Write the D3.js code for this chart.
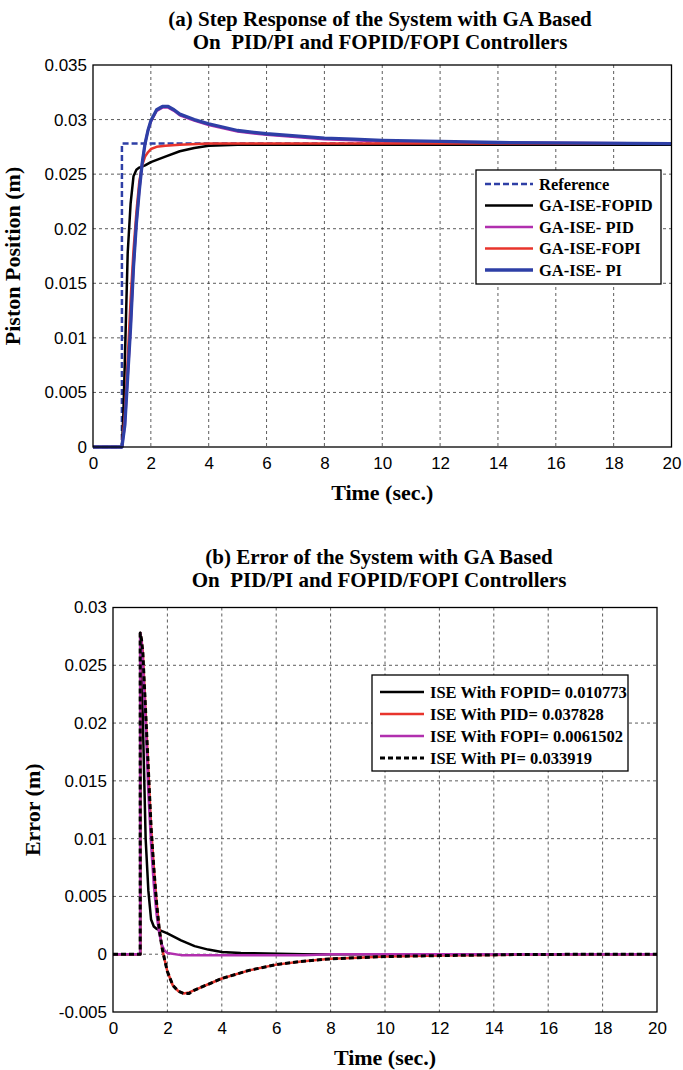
<!DOCTYPE html>
<html>
<head>
<meta charset="utf-8">
<script src="https://cdn.jsdelivr.net/npm/d3@7"></script>
<style>
body{margin:0;background:#fff}
text{white-space:pre}
</style>
</head>
<body>
<svg id="fig" width="683" height="1070"></svg>
<script>
// ---- data ----
var timeTicks = [0,2,4,6,8,10,12,14,16,18,20];
var posTicks = [0,0.005,0.01,0.015,0.02,0.025,0.03,0.035];
var posTickLabels = ["0","0.005","0.01","0.015","0.02","0.025","0.03","0.035"];
var errTicks = [-0.005,0,0.005,0.01,0.015,0.02,0.025,0.03];
var errTickLabels = ["-0.005","0","0.005","0.01","0.015","0.02","0.025","0.03"];

// (a) step response
var refT   = [0,1,1,20];
var refY   = [0,0,0.0278,0.0278];
var fopidT = [0,1,1.05,1.1,1.15,1.2,1.3,1.4,1.5,1.6,1.8,2,2.5,3,3.5,4,5,20];
var fopidY = [0,0,0.003,0.0078,0.0128,0.0178,0.0223,0.0248,0.0254,0.0256,0.0258,0.0261,0.0266,0.0271,0.0274,0.0276,0.0277,0.0277];
var fopiT  = [0,1,1.1,1.2,1.3,1.4,1.5,1.6,1.7,1.8,1.9,2,2.2,2.5,3,4,5,20];
var fopiY  = [0,0,0.003,0.008,0.0135,0.018,0.0215,0.0243,0.0258,0.0266,0.027,0.0273,0.0275,0.0276,0.0277,0.0278,0.0278,0.0278];
var piT    = [0,1,1.1,1.2,1.3,1.4,1.5,1.6,1.7,1.8,1.9,2,2.2,2.4,2.6,2.8,3,3.5,4,5,6,7,8,9,10,12,14,20];
var piY    = [0,0,0.002,0.0065,0.011,0.0165,0.0205,0.0235,0.026,0.0278,0.029,0.0299,0.0309,0.0312,0.0312,0.0309,0.0305,0.03,0.0296,0.029,0.0287,0.0285,0.0283,0.0282,0.0281,0.028,0.0279,0.0278];
var pidT   = [0,1,1.1,1.2,1.3,1.4,1.5,1.6,1.7,1.8,1.9,2,2.2,2.4,2.6,2.8,3,3.5,4,5,6,7,8,9,10,12,14,20];
var pidY   = [0,0,0.002,0.0065,0.011,0.0165,0.0205,0.0235,0.026,0.0278,0.029,0.0298,0.0308,0.0311,0.0311,0.0308,0.0304,0.0299,0.0295,0.0289,0.0286,0.0284,0.0282,0.0281,0.028,0.0279,0.0279,0.0278];

// (b) error
var eFopidT = [0,1,1,1.05,1.1,1.15,1.2,1.3,1.4,1.5,1.6,1.8,2,2.5,3,3.5,4,4.7,7,20];
var eFopidY = [0,0,0.0278,0.025,0.02,0.015,0.01,0.0055,0.003,0.0024,0.0022,0.002,0.0018,0.0012,0.0007,0.0004,0.0002,0.0001,0,0];
var ePidT   = [0,1,1,1.05,1.1,1.2,1.3,1.4,1.5,1.6,1.7,1.8,1.9,2,2.2,2.4,2.6,2.8,3,3.5,4,5,6,7,8,9,10,12,14,15,20];
var ePidY   = [0,0,0.0278,0.0272,0.026,0.021,0.016,0.011,0.0075,0.0045,0.0022,0.0006,-0.0005,-0.0015,-0.0027,-0.0032,-0.0034,-0.0033,-0.0031,-0.0026,-0.0021,-0.0014,-0.0009,-0.0006,-0.0004,-0.0003,-0.0002,-0.00012,-0.00006,-0.00002,0];
var eFopiT  = [0,1,1,1.05,1.1,1.2,1.3,1.4,1.5,1.6,1.7,1.8,1.9,2,2.5,7,8,20];
var eFopiY  = [0,0,0.0278,0.027,0.025,0.02,0.014,0.0095,0.006,0.0035,0.0018,0.0008,0.0003,0.0001,-0.00008,-0.00008,0,0];
var ePiT    = ePidT;
var ePiY    = [0,0,0.0278,0.0272,0.026,0.021,0.016,0.011,0.0075,0.0045,0.0022,0.0006,-0.0005,-0.0015,-0.0027,-0.0032,-0.0034,-0.0034,-0.0031,-0.0026,-0.0021,-0.0014,-0.0009,-0.0006,-0.0004,-0.0003,-0.0002,-0.00012,-0.00006,-0.00002,0];

var BLUE = "#2e3fa6", RED = "#e8342c", MAG = "#b12fae", BLK = "#000";
var SERIF = "'Liberation Serif','Times New Roman',serif";
var SANS = "'Liberation Sans',Arial,sans-serif";

var svg = d3.select("#fig");

function zip(t,y){
   return t.map(function(v,i){return [v,y[i]]});
}

function panel(o){
   var x = d3.scaleLinear().domain([0,20]).range([o.left,o.right]);
   var y = d3.scaleLinear().domain(o.ydom).range([o.bottom,o.top]);
   var g = svg.append("g");

   // title
   o.title.forEach(function(s,i){
      g.append("text").attr("x",o.titleX).attr("y",o.titleY+i*23)
         .attr("text-anchor","middle").attr("font-family",SERIF)
         .attr("font-weight","bold").attr("font-size",21).text(s);
   });

   // grid
   var grid = g.append("g").attr("stroke","#333").attr("stroke-width",0.8)
      .attr("stroke-dasharray","3,3");
   timeTicks.slice(1,-1).forEach(function(t){
      grid.append("line").attr("x1",x(t)).attr("x2",x(t)).attr("y1",o.top).attr("y2",o.bottom);
   });
   o.yticks.slice(1,-1).forEach(function(v){
      grid.append("line").attr("x1",o.left).attr("x2",o.right).attr("y1",y(v)).attr("y2",y(v));
   });

   // axes (d3 axes, ticks hidden, only labels)
   var xa = d3.axisBottom(x).tickValues(timeTicks).tickSize(0).tickPadding(10);
   var ya = d3.axisLeft(y).tickValues(o.yticks).tickSize(0).tickPadding(6)
      .tickFormat(function(d,i){return o.ylabels[i]});
   var gx = g.append("g").attr("transform","translate(0,"+o.bottom+")").call(xa);
   var gy = g.append("g").attr("transform","translate("+o.left+",0)").call(ya);
   [gx,gy].forEach(function(a){
      a.select(".domain").remove();
      a.selectAll("text").attr("font-family",SANS).attr("font-size",17).attr("fill","#000");
   });

   // lines
   var clipId = "clip"+o.id;
   svg.append("clipPath").attr("id",clipId).append("rect")
      .attr("x",o.left).attr("y",o.top-4).attr("width",o.right-o.left).attr("height",o.bottom-o.top+8);
   var line = d3.line().x(function(d){return x(d[0])}).y(function(d){return y(d[1])});
   var lg = g.append("g").attr("clip-path","url(#"+clipId+")");
   o.series.forEach(function(s){
      lg.append("path").attr("d",line(zip(s.t,s.y))).attr("fill","none")
         .attr("stroke",s.color).attr("stroke-width",s.width)
         .attr("stroke-dasharray",s.dash||null).attr("stroke-linejoin","round");
   });

   // box
   g.append("rect").attr("x",o.left).attr("y",o.top).attr("width",o.right-o.left)
      .attr("height",o.bottom-o.top).attr("fill","none").attr("stroke","#000").attr("stroke-width",1.3);

   // axis labels
   g.append("text").attr("x",(o.left+o.right)/2).attr("y",o.xlabY).attr("text-anchor","middle")
      .attr("font-family",SERIF).attr("font-weight","bold").attr("font-size",22).text("Time (sec.)");
   g.append("text").attr("transform","translate("+o.ylabX+","+((o.top+o.bottom)/2)+") rotate(-90)")
      .attr("text-anchor","middle").attr("font-family",SERIF).attr("font-weight","bold")
      .attr("font-size",22).text(o.ylab);

   // legend
   var L = o.legend;
   var lgd = g.append("g");
   lgd.append("rect").attr("x",L.x).attr("y",L.y).attr("width",L.w).attr("height",L.h)
      .attr("fill","#fff").attr("stroke","#000").attr("stroke-width",1.3);
   L.items.forEach(function(s,i){
      var yy = L.y+L.first+i*L.step;
      lgd.append("line").attr("x1",L.x+L.l1).attr("x2",L.x+L.l2).attr("y1",yy).attr("y2",yy)
         .attr("stroke",s.color).attr("stroke-width",s.width).attr("stroke-dasharray",s.dash||null);
      lgd.append("text").attr("x",L.x+L.tx).attr("y",yy+5.5).attr("font-family",SERIF)
         .attr("font-weight","bold").attr("font-size",16.5).text(s.name);
   });
}

var sRef   = {name:"Reference",   t:refT,   y:refY,   color:BLUE, width:2.5, dash:"6,3"};
var sFopid = {name:"GA-ISE-FOPID",t:fopidT, y:fopidY, color:BLK,  width:2.5};
var sPid   = {name:"GA-ISE- PID", t:pidT,   y:pidY,   color:MAG,  width:2.5};
var sFopi  = {name:"GA-ISE-FOPI", t:fopiT,  y:fopiY,  color:RED,  width:2.5};
var sPi    = {name:"GA-ISE- PI",  t:piT,    y:piY,    color:BLUE, width:3.3};

panel({
   id:"a", left:93, right:671.5, top:65, bottom:447, ydom:[0,0.035],
   yticks:posTicks, ylabels:posTickLabels,
   title:["(a) Step Response of the System with GA Based","On  PID/PI and FOPID/FOPI Controllers"],
   titleX:380, titleY:26, xlabY:500, ylabX:20, ylab:"Piston Position (m)",
   series:[sRef,sFopid,sPid,sFopi,sPi],
   legend:{x:476,y:170,w:185,h:114,first:14,step:21.5,l1:9,l2:57,tx:63,
      items:[sRef,sFopid,sPid,sFopi,sPi]}
});

var eFopid = {name:"ISE With FOPID= 0.010773", t:eFopidT, y:eFopidY, color:BLK, width:2.5};
var ePid   = {name:"ISE With PID= 0.037828",   t:ePidT,   y:ePidY,   color:RED, width:2.5};
var eFopi  = {name:"ISE With FOPI= 0.0061502", t:eFopiT,  y:eFopiY,  color:MAG, width:2.5};
var ePi    = {name:"ISE With PI= 0.033919",    t:ePiT,    y:ePiY,    color:BLK, width:3, dash:"5,3"};

panel({
   id:"b", left:113, right:657, top:607.5, bottom:1012, ydom:[-0.005,0.03],
   yticks:errTicks, ylabels:errTickLabels,
   title:["(b) Error of the System with GA Based","On  PID/PI and FOPID/FOPI Controllers"],
   titleX:379, titleY:564, xlabY:1065, ylabX:40, ylab:"Error (m)",
   series:[eFopid,ePid,eFopi,ePi],
   legend:{x:372,y:675,w:256,h:96,first:17,step:22,l1:8,l2:52,tx:58,
      items:[eFopid,ePid,eFopi,ePi]}
});
</script>
</body>
</html>
